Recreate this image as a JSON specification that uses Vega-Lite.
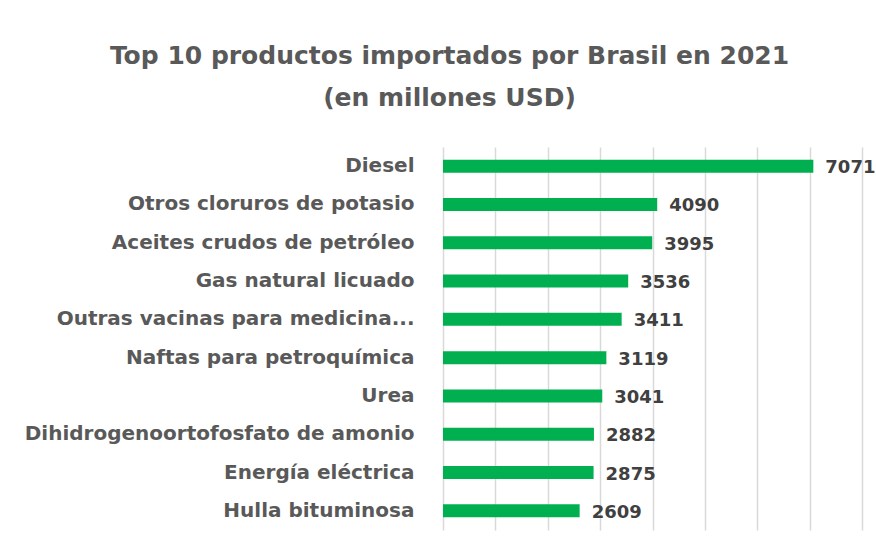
{
  "$schema": "https://vega.github.io/schema/vega-lite/v6.json",
  "width": 419,
  "height": 383,
  "autosize": {"type": "none"},
  "padding": {"left": 443, "top": 147, "right": 14, "bottom": 19},
  "background": "white",
  "title": {
    "text": ["Top 10 productos importados por Brasil en 2021", "(en millones USD)"],
    "anchor": "middle",
    "frame": "group",
    "dx": -203,
    "offset": 36,
    "font": "DejaVu Sans",
    "fontSize": 25,
    "fontWeight": "bold",
    "color": "#595959",
    "lineHeight": 42
  },
  "data": {
    "values": [
      {"producto": "Diesel", "valor": 7071},
      {"producto": "Otros cloruros de potasio", "valor": 4090},
      {"producto": "Aceites crudos de petróleo", "valor": 3995},
      {"producto": "Gas natural licuado", "valor": 3536},
      {"producto": "Outras vacinas para medicina...", "valor": 3411},
      {"producto": "Naftas para petroquímica", "valor": 3119},
      {"producto": "Urea", "valor": 3041},
      {"producto": "Dihidrogenoortofosfato de amonio", "valor": 2882},
      {"producto": "Energía eléctrica", "valor": 2875},
      {"producto": "Hulla bituminosa", "valor": 2609}
    ]
  },
  "encoding": {
    "y": {
      "field": "producto",
      "type": "nominal",
      "sort": null,
      "scale": {"paddingInner": 0.66, "paddingOuter": 0.33},
      "axis": {
        "title": null,
        "domain": false,
        "ticks": false,
        "labelPadding": 29,
        "labelFont": "DejaVu Sans",
        "labelFontSize": 20,
        "labelFontWeight": "bold",
        "labelColor": "#595959",
        "labelLimit": 0
      }
    },
    "x": {
      "field": "valor",
      "type": "quantitative",
      "scale": {"domain": [0, 8000], "nice": false},
      "axis": {
        "title": null,
        "labels": false,
        "ticks": false,
        "domain": false,
        "grid": true,
        "values": [0, 1000, 2000, 3000, 4000, 5000, 6000, 7000, 8000],
        "gridColor": "#d9d9d9",
        "gridWidth": 1.5
      }
    }
  },
  "layer": [
    {"mark": {"type": "bar", "color": "#00B050"}},
    {
      "mark": {
        "type": "text",
        "align": "left",
        "baseline": "middle",
        "dx": 12,
        "dy": 2,
        "font": "DejaVu Sans",
        "fontSize": 18,
        "fontWeight": "bold",
        "color": "#404040"
      },
      "encoding": {"text": {"field": "valor", "type": "quantitative", "format": "d"}}
    }
  ],
  "config": {"view": {"stroke": null}}
}
